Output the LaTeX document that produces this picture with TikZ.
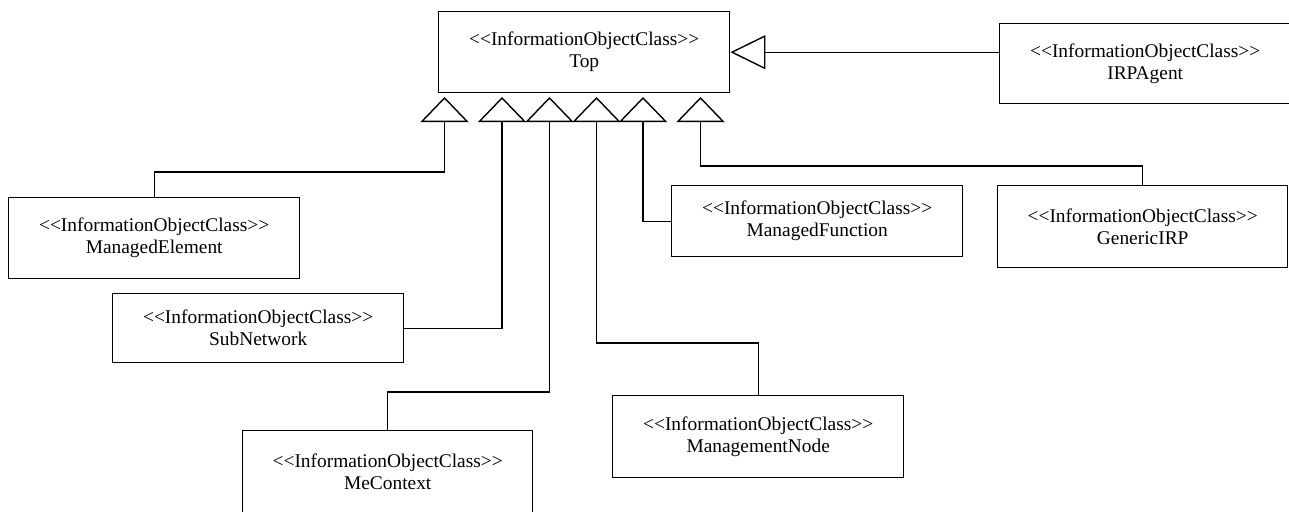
\documentclass[tikz,border=0pt]{standalone}
\usepackage{fontspec}
\setmainfont{Liberation Serif}[Ligatures=TeXOff]
\usetikzlibrary{arrows.meta}
\begin{document}
\begin{tikzpicture}[x=0.5pt, y=-0.5pt, line width=0.7pt,
  box/.style = {shape=rectangle, draw, align=center, anchor=north west,
    minimum width=145.5pt, inner sep=0pt,
    font=\fontsize{9.7}{11}\selectfont},
  isa/.style = {-{Triangle[open, length=12.5pt, width=24pt]}},
  isa big/.style = {-{Triangle[open, length=17.5pt, width=17pt]}}]
  \useasboundingbox (0,0) rectangle (1289,511);
  \node [box, minimum height=40.5pt] (top) at (438,11)
    {<<InformationObjectClass>>\\Top};
  \node [box, minimum height=40pt] (agent) at (999,23)
    {<<InformationObjectClass>>\\IRPAgent};
  \node [box, minimum height=40.5pt] (elem) at (8,197)
    {<<InformationObjectClass>>\\ManagedElement};
  \node [box, minimum height=34.5pt] (sub) at (112,293)
    {<<InformationObjectClass>>\\SubNetwork};
  \node [box, minimum height=41pt, minimum width=145pt] (mec) at (242,430)
    {<<InformationObjectClass>>\\MeContext};
  \node [box, minimum height=41pt] (mnode) at (612,395)
    {<<InformationObjectClass>>\\ManagementNode};
  \node [box, minimum height=35.5pt] (mfunc) at (671,185)
    {<<InformationObjectClass>>\\ManagedFunction};
  \node [box, minimum height=41pt, minimum width=145pt] (generic) at (997,185)
    {<<InformationObjectClass>>\\GenericIRP};
  \coordinate (t1) at (444.5,97);
  \coordinate (t2) at (502,97);
  \coordinate (t3) at (549.5,97);
  \coordinate (t4) at (596.5,97);
  \coordinate (t5) at (643,97);
  \coordinate (t6) at (700.5,97);
  \draw [isa] (elem.north) -- ++(0,-25) -| (t1);
  \draw [isa] (sub.east) -| (t2);
  \draw [isa] (mec.north) -- ++(0,-38) -| (t3);
  \draw [isa] (mnode.north) -- ++(0,-52) -| (t4);
  \draw [isa] (mfunc.west) -| (t5);
  \draw [isa] (generic.north) -- ++(0,-19) -| (t6);
  \draw [isa big] (agent.west |- top.east) -- (top.east);
\end{tikzpicture}
\end{document}
